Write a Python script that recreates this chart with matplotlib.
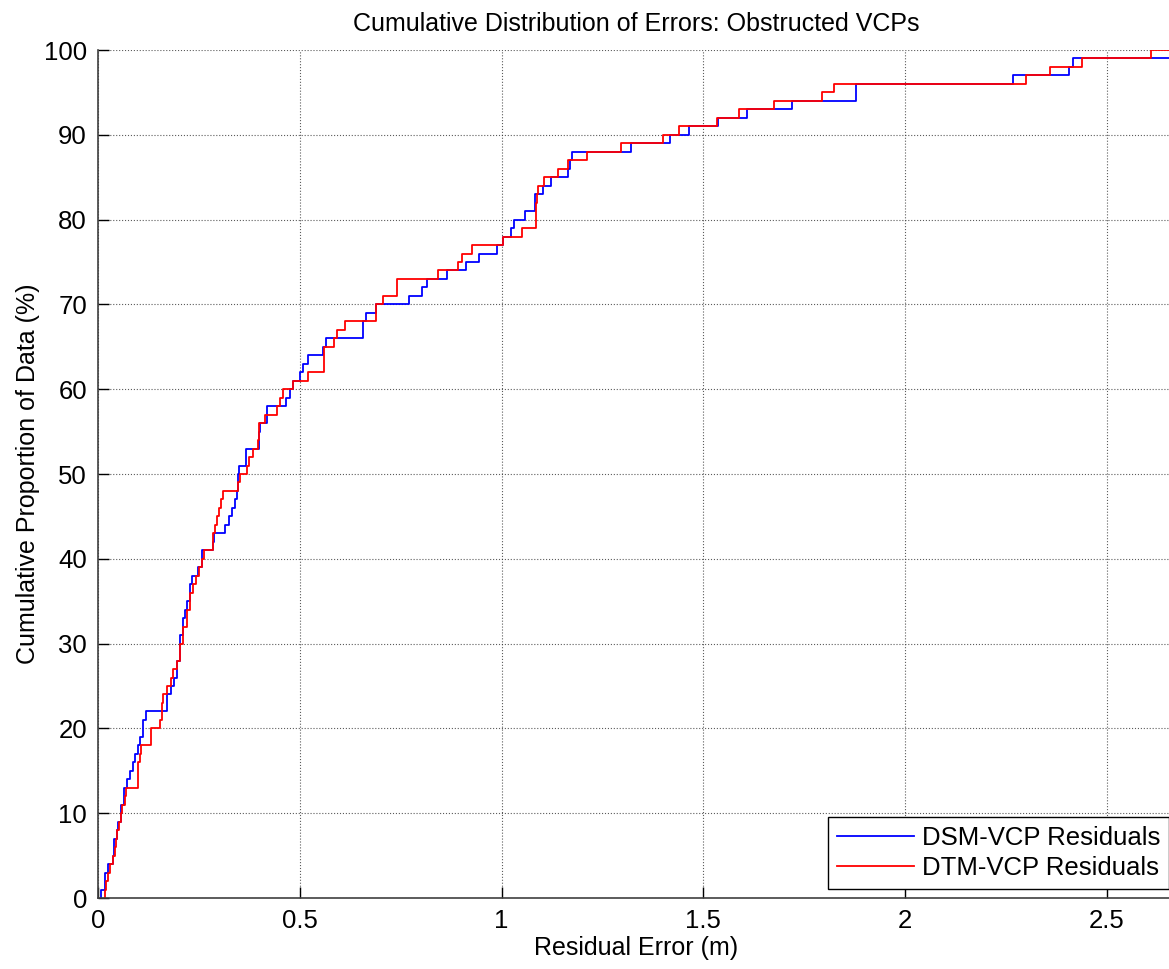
import numpy as np
import matplotlib
matplotlib.use("Agg")
from matplotlib import pyplot as plt

# sorted residuals (m), one per 1 % step
dsm_resid = [0.007, 0.017, 0.017, 0.024, 0.036, 0.040, 0.040, 0.046, 0.050, 0.057,
             0.057, 0.065, 0.065, 0.073, 0.079, 0.087, 0.092, 0.100, 0.104, 0.112,
             0.112, 0.118, 0.170, 0.172, 0.180, 0.188, 0.195, 0.195, 0.203, 0.203,
             0.203, 0.210, 0.210, 0.216, 0.221, 0.228, 0.228, 0.232, 0.249, 0.257,
             0.257, 0.286, 0.287, 0.315, 0.325, 0.331, 0.340, 0.345, 0.347, 0.348,
             0.350, 0.367, 0.367, 0.400, 0.400, 0.401, 0.418, 0.418, 0.467, 0.476,
             0.482, 0.500, 0.507, 0.520, 0.558, 0.566, 0.656, 0.656, 0.665, 0.690,
             0.771, 0.802, 0.816, 0.864, 0.913, 0.944, 0.989, 1.004, 1.023, 1.030,
             1.058, 1.083, 1.083, 1.103, 1.122, 1.164, 1.170, 1.175, 1.320, 1.417,
             1.464, 1.537, 1.607, 1.719, 1.877, 1.877, 2.268, 2.406, 2.415, 2.700]

dtm_resid = [0.017, 0.020, 0.025, 0.030, 0.037, 0.042, 0.045, 0.048, 0.052, 0.057,
             0.060, 0.066, 0.070, 0.100, 0.100, 0.100, 0.103, 0.106, 0.131, 0.131,
             0.154, 0.159, 0.159, 0.160, 0.170, 0.182, 0.185, 0.195, 0.203, 0.203,
             0.211, 0.211, 0.220, 0.220, 0.228, 0.228, 0.236, 0.244, 0.251, 0.257,
             0.262, 0.286, 0.286, 0.290, 0.295, 0.300, 0.305, 0.310, 0.348, 0.352,
             0.370, 0.375, 0.385, 0.397, 0.400, 0.400, 0.414, 0.443, 0.450, 0.459,
             0.482, 0.521, 0.560, 0.560, 0.560, 0.585, 0.592, 0.612, 0.688, 0.690,
             0.706, 0.740, 0.740, 0.843, 0.892, 0.901, 0.926, 1.003, 1.050, 1.085,
             1.085, 1.086, 1.087, 1.090, 1.105, 1.140, 1.164, 1.211, 1.297, 1.400,
             1.440, 1.534, 1.588, 1.675, 1.794, 1.824, 2.299, 2.359, 2.438, 2.610]

labels = ['DSM-VCP Residuals', 'DTM-VCP Residuals']
colors = ['#0000ff', '#ff0000']
x_ticks = [0, 0.5, 1, 1.5, 2, 2.5]
x_ticklabels = ['0', '0.5', '1', '1.5', '2', '2.5']
y_ticks = list(range(0, 101, 10))

plt.rcParams['font.family'] = ['Liberation Sans', 'DejaVu Sans']

fig = plt.figure(figsize=(11.69, 9.69), dpi=100)
ax = fig.add_axes([98 / 1169, 1 - 898 / 969, 1076 / 1169, 848 / 969])

for resid, lab, col in zip([dsm_resid, dtm_resid], labels, colors):
    v = np.sort(np.array(resid))
    n = len(v)
    xs = np.concatenate([[v[0]], v, [3.0]])
    ys = np.concatenate([[0], np.arange(1, n + 1) * 100.0 / n, [100]])
    ax.step(xs, ys, where='post', color=col, lw=1.3, label=lab)

ax.set_xlim(0, 2.666)
ax.set_ylim(0, 100)
ax.set_xticks(x_ticks)
ax.set_xticklabels(x_ticklabels)
ax.set_yticks(y_ticks)
ax.grid(True, linestyle=':', color='#333333', linewidth=0.8, alpha=0.8)
ax.tick_params(direction='in', length=8, width=1, labelsize=18.5, colors='black', pad=8)
ax.spines['top'].set_visible(False)
ax.spines['right'].set_visible(False)
for s in ['left', 'bottom']:
    ax.spines[s].set_linewidth(1.2)
    ax.spines[s].set_color('#404040')

ax.set_title('Cumulative Distribution of Errors: Obstructed VCPs', fontsize=18, pad=14)
ax.set_xlabel('Residual Error (m)', fontsize=18, labelpad=2)
ax.set_ylabel('Cumulative Proportion of Data (%)', fontsize=18, labelpad=3)

leg = ax.legend(loc='lower left', bbox_to_anchor=(730 / 1076, 9 / 848), fontsize=18.5,
                handlelength=3.0, handletextpad=0.3, labelspacing=0.25,
                borderpad=0.35, borderaxespad=0, fancybox=False, framealpha=1,
                edgecolor='black')
leg.get_frame().set_linewidth(1.0)

fig.savefig('out.png', dpi=100)
